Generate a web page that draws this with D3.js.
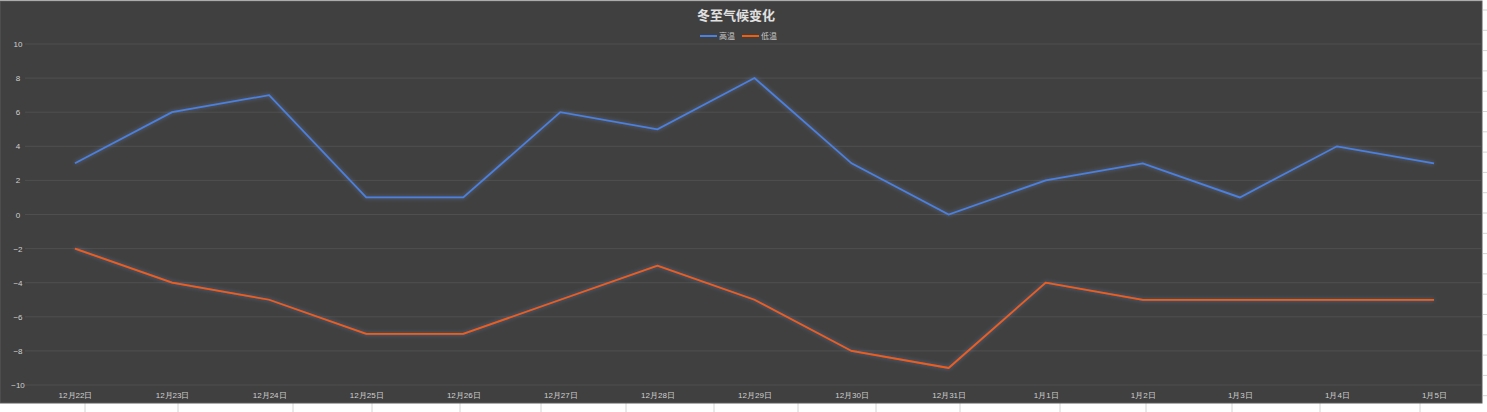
<!DOCTYPE html>
<html>
<head>
<meta charset="utf-8">
<script src="https://cdn.jsdelivr.net/npm/d3@7"></script>
<style>
body { margin: 0; background: #fff; }
svg { display: block; font-family: "Noto Sans CJK SC", "Noto Sans", sans-serif; }
</style>
</head>
<body>
<script>
// data
var days = ['12月22日','12月23日','12月24日','12月25日','12月26日','12月27日','12月28日',
  '12月29日','12月30日','12月31日','1月1日','1月2日','1月3日','1月4日','1月5日'];
var high = [3, 6, 7, 1, 1, 6, 5, 8, 3, 0, 2, 3, 1, 4, 3];
var low = [-2, -4, -5, -7, -7, -5, -3, -5, -8, -9, -4, -5, -5, -5, -5];
var yTicks = [-10, -8, -6, -4, -2, 0, 2, 4, 6, 8, 10];
var seriesNames = ['高温', '低温'];
var colors = ['#4a80e2', '#f55d0a'];

var W = 1487, H = 412;
var svg = d3.select('body').append('svg')
  .attr('width', W)
  .attr('height', H);

// spreadsheet cells around the chart
var colLines = [85, 178, 293, 372, 460, 541, 626, 714, 798, 876, 960, 1060, 1146, 1232, 1320, 1420];
svg.selectAll('.col').data(colLines).enter().append('line')
  .attr('x1', function(d){return d;}).attr('x2', function(d){return d;})
  .attr('y1', 403).attr('y2', H)
  .attr('stroke', '#d4d4d4');
svg.selectAll('.row').data(d3.range(0, H, 20.3)).enter().append('line')
  .attr('x1', 1483).attr('x2', W)
  .attr('y1', function(d){return d + 10;}).attr('y2', function(d){return d + 10;})
  .attr('stroke', '#d4d4d4');

svg.append('rect')
  .attr('x', 0).attr('y', 1)
  .attr('width', 1482).attr('height', 402)
  .attr('fill', '#404040')
  .attr('stroke', '#5a5a5a');

var defs = svg.append('defs');
var glow = defs.append('filter').attr('id', 'glow')
  .attr('x', '-5%').attr('y', '-20%').attr('width', '110%').attr('height', '140%');
glow.append('feGaussianBlur').attr('in', 'SourceAlpha').attr('stdDeviation', 2.2).attr('result', 'b');
glow.append('feFlood').attr('flood-color', '#7f9ed8').attr('flood-opacity', 0.5);
glow.append('feComposite').attr('in2', 'b').attr('operator', 'in').attr('result', 'g');
var merge = glow.append('feMerge');
merge.append('feMergeNode').attr('in', 'g');
merge.append('feMergeNode').attr('in', 'SourceGraphic');

var x = d3.scalePoint()
  .domain(days)
  .range([75, 1434]);

var y = d3.scaleLinear()
  .domain([-10, 10])
  .range([385, 44]);

// gridlines
svg.selectAll('.grid').data(yTicks).enter().append('line')
  .attr('x1', 25).attr('x2', 1482)
  .attr('y1', function(d){return y(d);})
  .attr('y2', function(d){return y(d);})
  .attr('stroke', '#4f4f4f')
  .attr('stroke-width', 1);

var yAxis = svg.append('g')
  .attr('transform', 'translate(18,0)')
  .call(d3.axisLeft(y).tickValues(yTicks).tickSize(0).tickPadding(0));
yAxis.select('.domain').remove();
yAxis.selectAll('text')
  .attr('fill', '#d0d0d0')
  .attr('font-size', 8)
  .attr('text-anchor', 'middle');

var xAxis = svg.append('g')
  .attr('transform', 'translate(0,392)')
  .call(d3.axisBottom(x).tickSize(0).tickPadding(0));
xAxis.select('.domain').remove();
xAxis.selectAll('text')
  .attr('fill', '#d0d0d0')
  .attr('font-size', 8);

var line = d3.line()
  .x(function(d,i){return x(days[i]);})
  .y(function(d){return y(d);});

svg.selectAll('.series').data([high, low]).enter().append('path')
  .attr('class', 'series')
  .attr('d', line)
  .attr('fill', 'none')
  .attr('stroke', function(d,i){return colors[i];})
  .attr('stroke-width', 1.75)
  .attr('stroke-linejoin', 'miter')
  .attr('filter', 'url(#glow)');

// title
svg.append('text')
  .attr('x', 736).attr('y', 20)
  .attr('text-anchor', 'middle')
  .attr('font-size', 13)
  .attr('font-weight', 'bold')
  .attr('fill', '#e0e0e0')
  .text('冬至气候变化');

// legend
var legend = svg.selectAll('.legend').data(seriesNames).enter().append('g')
  .attr('transform', function(d,i){return 'translate(' + (700 + i * 42) + ',36)';});
legend.append('line')
  .attr('x1', 0).attr('x2', 17)
  .attr('stroke', function(d,i){return colors[i];})
  .attr('stroke-width', 2);
legend.append('text')
  .attr('x', 19).attr('y', 3)
  .attr('font-size', 8)
  .attr('fill', '#c8c8c8')
  .text(function(d){return d;});
</script>
</body>
</html>
